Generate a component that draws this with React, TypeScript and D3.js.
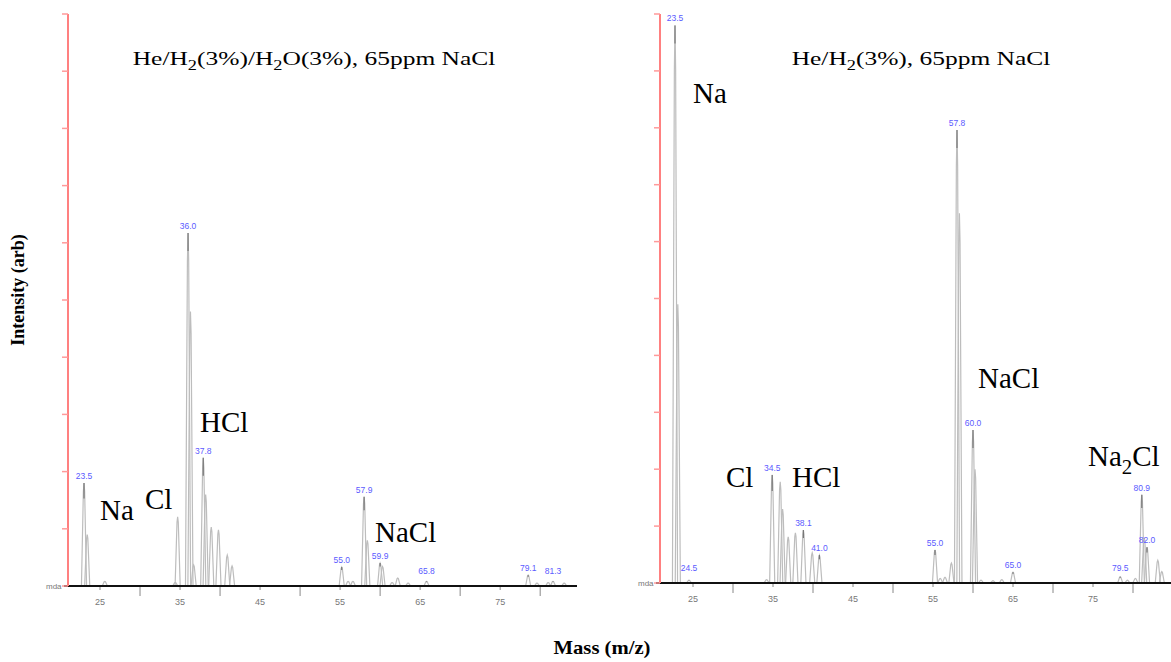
import { useEffect, useRef } from "react";
import * as d3 from "d3";

// ---- left spectrum: He/H2(3%)/H2O(3%), 65ppm NaCl ----
const leftMass = [23.0, 23.4, 25.6, 34.4, 34.7, 36.0, 36.3, 36.7, 37.9, 38.2, 38.9, 39.8, 40.9, 41.5,
  55.2, 56.0, 56.6, 58.0, 58.4, 60.0, 60.3, 61.5, 62.2, 63.5, 65.8, 78.5, 79.6, 81.0, 81.6, 83.0];
const leftIntensity = [18.0, 9.0, 0.8, 0.6, 12.1, 61.7, 48.0, 3.7, 22.4, 16.0, 10.3, 9.8, 5.4, 3.5,
  3.3, 0.8, 0.8, 15.6, 8.0, 4.0, 3.4, 0.6, 1.4, 0.5, 0.8, 1.9, 0.5, 0.6, 0.8, 0.5];
const leftLabelMass = [23.0, 36.0, 37.9, 55.2, 58.0, 60.0, 65.8, 78.5, 81.6];
const leftLabelText = ["23.5", "36.0", "37.8", "55.0", "57.9", "59.9", "65.8", "79.1", "81.3"];

// ---- right spectrum: He/H2(3%), 65ppm NaCl ----
const rightMass = [22.75, 23.1, 24.5, 34.2, 34.9, 35.9, 36.2, 36.9, 37.8, 38.8, 39.9, 40.8,
  55.25, 55.9, 56.5, 57.3, 58.0, 58.3, 60.0, 60.25, 61.0, 62.5, 63.6, 65.0,
  78.4, 79.3, 80.3, 81.1, 81.4, 81.75, 83.1, 83.6];
const rightIntensity = [98.0, 49.0, 0.5, 0.6, 19.0, 17.8, 13.0, 8.1, 8.8, 9.3, 5.3, 4.9,
  5.8, 0.8, 1.0, 3.5, 79.6, 65.0, 26.9, 20.0, 0.5, 0.4, 0.6, 1.9,
  1.1, 0.5, 0.8, 15.5, 8.0, 6.3, 4.0, 2.0];
const rightLabelMass = [22.75, 24.5, 34.9, 38.8, 40.8, 55.25, 58.0, 60.0, 65.0, 78.4, 81.1, 81.75];
const rightLabelText = ["23.5", "24.5", "34.5", "38.1", "41.0", "55.0", "57.8", "60.0", "65.0", "79.5", "80.9", "82.0"];

const xTickValues = [25, 30, 35, 40, 45, 50, 55, 60, 65, 70, 75, 80];
const yTickValues = [0, 10, 20, 30, 40, 50, 60, 70, 80, 90, 100];

type Seg = [string, boolean];
const leftTitle: Seg[] = [["He/H", false], ["2", true], ["(3%)/H", false], ["2", true], ["O(3%), 65ppm NaCl", false]];
const rightTitle: Seg[] = [["He/H", false], ["2", true], ["(3%), 65ppm NaCl", false]];

// annotations: text segments, x, baseline y
const leftNotes: { segs: Seg[]; x: number; y: number }[] = [
  { segs: [["Na", false]], x: 100, y: 520 },
  { segs: [["Cl", false]], x: 145, y: 509 },
  { segs: [["HCl", false]], x: 200, y: 432 },
  { segs: [["NaCl", false]], x: 375, y: 542 },
];
const rightNotes: { segs: Seg[]; x: number; y: number }[] = [
  { segs: [["Na", false]], x: 693, y: 103 },
  { segs: [["Cl", false]], x: 726, y: 487 },
  { segs: [["HCl", false]], x: 792, y: 487 },
  { segs: [["NaCl", false]], x: 978, y: 388 },
  { segs: [["Na", false], ["2", true], ["Cl", false]], x: 1088, y: 466 },
];

function addSegs(text: any, segs: Seg[], shift: number) {
  let down = false;
  segs.forEach(([s, sub]) => {
    const t = text.append("tspan").text(s);
    if (sub && !down) { t.attr("dy", shift).attr("font-size", "72%"); down = true; }
    else if (!sub && down) { t.attr("dy", -shift); down = false; }
  });
}

function Spectrum(props: any) {
  const { mass, intensity, labelMass, labelText, xDomain, xRange, yRange, title, titleX, notes } = props;
  const ref = useRef<SVGGElement>(null);

  useEffect(() => {
    const g = d3.select(ref.current);
    g.selectAll("*").remove();
    const x = d3.scaleLinear().domain(xDomain).range(xRange);
    const y = d3.scaleLinear().domain([0, 100]).range(yRange);
    const base = yRange[0];

    // peaks
    const peakLine = d3.line<[number, number]>().x(d => x(d[0])).y(d => y(d[1]));
    mass.forEach((m: number, i: number) => {
      const h = intensity[i];
      const pts: [number, number][] = [[m - 0.32, 0], [m - 0.08, h * 0.92], [m, h], [m + 0.08, h * 0.92], [m + 0.32, 0]];
      g.append("path").attr("d", peakLine(pts)).attr("fill", "none")
        .attr("stroke", "#bdbdbd").attr("stroke-width", 1.2);
    });

    // x axis
    g.append("line").attr("x1", xRange[0] - 4).attr("x2", xRange[1])
      .attr("y1", base).attr("y2", base).attr("stroke", "#111").attr("stroke-width", 2);
    xTickValues.filter(v => x(v) <= xRange[1]).forEach(v => {
      const labelled = v % 10 === 5;
      g.append("line").attr("x1", x(v)).attr("x2", x(v))
        .attr("y1", base + 1).attr("y2", base + (labelled ? 4 : 10))
        .attr("stroke", "#888").attr("stroke-width", 1);
      if (labelled) {
        g.append("text").attr("x", x(v)).attr("y", base + 19).attr("text-anchor", "middle")
          .attr("font-family", "Liberation Sans, Arial").attr("font-size", 9).attr("fill", "#777")
          .text(v);
      }
    });
    g.append("text").attr("x", xRange[0] - 22).attr("y", base + 3)
      .attr("font-family", "Liberation Sans, Arial").attr("font-size", 8).attr("fill", "#777").text("mda");

    // y axis (red)
    g.append("line").attr("x1", xRange[0]).attr("x2", xRange[0]).attr("y1", base).attr("y2", yRange[1])
      .attr("stroke", "#ff8080").attr("stroke-width", 2);
    yTickValues.forEach(v => {
      g.append("line").attr("x1", xRange[0] - 6).attr("x2", xRange[0]).attr("y1", y(v)).attr("y2", y(v))
        .attr("stroke", "#ff9a9a").attr("stroke-width", 1.5);
    });

    // dark tips and peak labels
    labelMass.forEach((m: number, i: number) => {
      const idx = d3.minIndex(mass, (d: number) => Math.abs(d - m));
      const h = intensity[idx];
      const top = y(h);
      const tip = Math.min(18, (base - top) * 0.15);
      g.append("line").attr("x1", x(m)).attr("x2", x(m)).attr("y1", top).attr("y2", top + tip)
        .attr("stroke", "#777").attr("stroke-width", 1.2);
      g.append("text").attr("x", x(m)).attr("y", Math.min(top, base - 8) - 4).attr("text-anchor", "middle")
        .attr("font-family", "Liberation Sans, Arial").attr("font-size", 8.5).attr("fill", "#5b5bff")
        .text(labelText[i]);
    });

    // title
    const t = g.append("text").attr("transform", `translate(${titleX},65) scale(1.34,1)`)
      .attr("text-anchor", "middle").attr("font-family", "Liberation Serif, Times New Roman, serif")
      .attr("font-size", 19).attr("fill", "#000");
    addSegs(t, title, 5);

    // compound annotations
    notes.forEach((n: any) => {
      const nt = g.append("text").attr("x", n.x).attr("y", n.y)
        .attr("font-family", "Liberation Serif, Times New Roman, serif").attr("font-size", 29).attr("fill", "#000");
      addSegs(nt, n.segs, 8);
    });
  }, [mass, intensity]);

  return <g ref={ref}></g>;
}

export default function App() {
  return (
    <svg width={1171} height={662} style={{ position: "absolute", left: 0, top: 0, background: "#fff" }}>
      <rect width={1171} height={662} fill="#fff" />
      <Spectrum mass={leftMass} intensity={leftIntensity} labelMass={leftLabelMass} labelText={leftLabelText}
        xDomain={[21, 84.6]} xRange={[68, 577]} yRange={[586, 14]} title={leftTitle} titleX={314} notes={leftNotes} />
      <Spectrum mass={rightMass} intensity={rightIntensity} labelMass={rightLabelMass} labelText={rightLabelText}
        xDomain={[20.875, 84.75]} xRange={[660, 1171]} yRange={[583, 14]} title={rightTitle} titleX={921} notes={rightNotes} />
      <text transform="translate(24,290) rotate(-90)" textAnchor="middle"
        fontFamily="Liberation Serif, Times New Roman, serif" fontWeight="bold" fontSize={18}>Intensity (arb)</text>
      <text transform="translate(602,654) scale(1.15,1)" textAnchor="middle"
        fontFamily="Liberation Serif, Times New Roman, serif" fontWeight="bold" fontSize={18}>Mass (m/z)</text>
    </svg>
  );
}
